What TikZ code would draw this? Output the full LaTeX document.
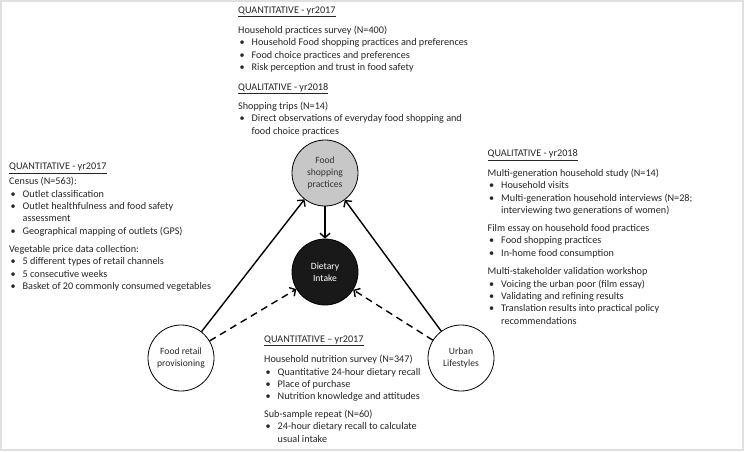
\documentclass[tikz,border=0pt]{standalone}
\usepackage{fontspec}
\setmainfont{Carlito}
\usetikzlibrary{arrows.meta}

\newcommand{\bul}{\makebox[13.5pt][l]{\hspace{1.5pt}\textbullet}}
\newcommand{\cont}{\hspace{13.5pt}}

\begin{document}
\begin{tikzpicture}[x=1pt, y=-1pt,
                    every text block/.style = {},
                    text block/.style = {anchor=north west, inner sep=0pt, align=left, text=black!85, font=\fontsize{10.2}{12.4}\selectfont, every text block},
                    concept/.style = {circle, draw=black, line width=0.8pt, minimum size=66pt, inner sep=0pt, align=center, font=\fontsize{9.6}{12}\selectfont},
                    link/.style = {line width=1.4pt, -{Straight Barb[length=4.5pt, width=10pt]}},
                    weak link/.style = {link, dash pattern=on 7pt off 5pt}]
                \useasboundingbox (0,0) rectangle (744,451);
                % frame
                \draw[black!12, line width=2pt] (1,1) rectangle (743,449.5);
                % circles
                \node at (325,173) [concept, fill=black!22, text=black!80] (shopping) {Food\\shopping\\practices};
                \node at (325,272) [concept, fill=black!90, text=white] (intake) {Dietary\\Intake};
                \node at (181,358) [concept, text=black!85] (retail) {Food retail\\provisioning};
                \node at (461,358) [concept, text=black!85] (urban) {Urban\\Lifestyles};
                % connections
                \draw[link] (shopping) -- (intake);
                \draw[link] (retail) -- (shopping);
                \draw[link] (urban) -- (shopping);
                \draw[weak link] (retail) -- (intake);
                \draw[weak link] (urban) -- (intake);
                % top
                \node at (238,6.5) [text block] (topblock) {\underline{QUANTITATIVE - yr2017}\\[7.5pt]
                    Household practices survey (N=400)\\
                    \bul Household Food shopping practices and preferences\\
                    \bul Food choice practices and preferences\\
                    \bul Risk perception and trust in food safety\\[7.5pt]
                    \underline{QUALITATIVE - yr2018}\\[6.5pt]
                    Shopping trips (N=14)\\
                    \bul Direct observations of everyday food shopping and\\
                    \cont food choice practices};
                % left
                \node at (9,163) [text block] (leftblock) {\underline{QUANTITATIVE - yr2017}\\[2.5pt]
                    Census (N=563):\\
                    \bul Outlet classification\\
                    \bul Outlet healthfulness and food safety\\
                    \cont assessment\\
                    \bul Geographical mapping of outlets (GPS)\\[5.5pt]
                    Vegetable price data collection:\\
                    \bul 5 different types of retail channels\\
                    \bul 5 consecutive weeks\\
                    \bul Basket of 20 commonly consumed vegetables};
                % right
                \node at (487.5,149.5) [text block] (rightblock) {\underline{QUALITATIVE - yr2018}\\[7.5pt]
                    Multi-generation household study (N=14)\\
                    \bul Household visits\\
                    \bul Multi-generation household interviews (N=28;\\
                    \cont interviewing two generations of women)\\[5.4pt]
                    Film essay on household food practices\\
                    \bul Food shopping practices\\
                    \bul In-home food consumption\\[6pt]
                    Multi-stakeholder validation workshop\\
                    \bul Voicing the urban poor (film essay)\\
                    \bul Validating and refining results\\
                    \bul Translation results into practical policy\\
                    \cont recommendations};
                % bottom
                \node at (264,335.5) [text block] (bottomblock) {\underline{QUANTITATIVE -- yr2017}\\[8pt]
                    Household nutrition survey (N=347)\\
                    \bul Quantitative 24-hour dietary recall\\
                    \bul Place of purchase\\
                    \bul Nutrition knowledge and attitudes\\[5pt]
                    Sub-sample repeat (N=60)\\
                    \bul 24-hour dietary recall to calculate\\
                    \cont usual intake};
            \end{tikzpicture}
\end{document}
